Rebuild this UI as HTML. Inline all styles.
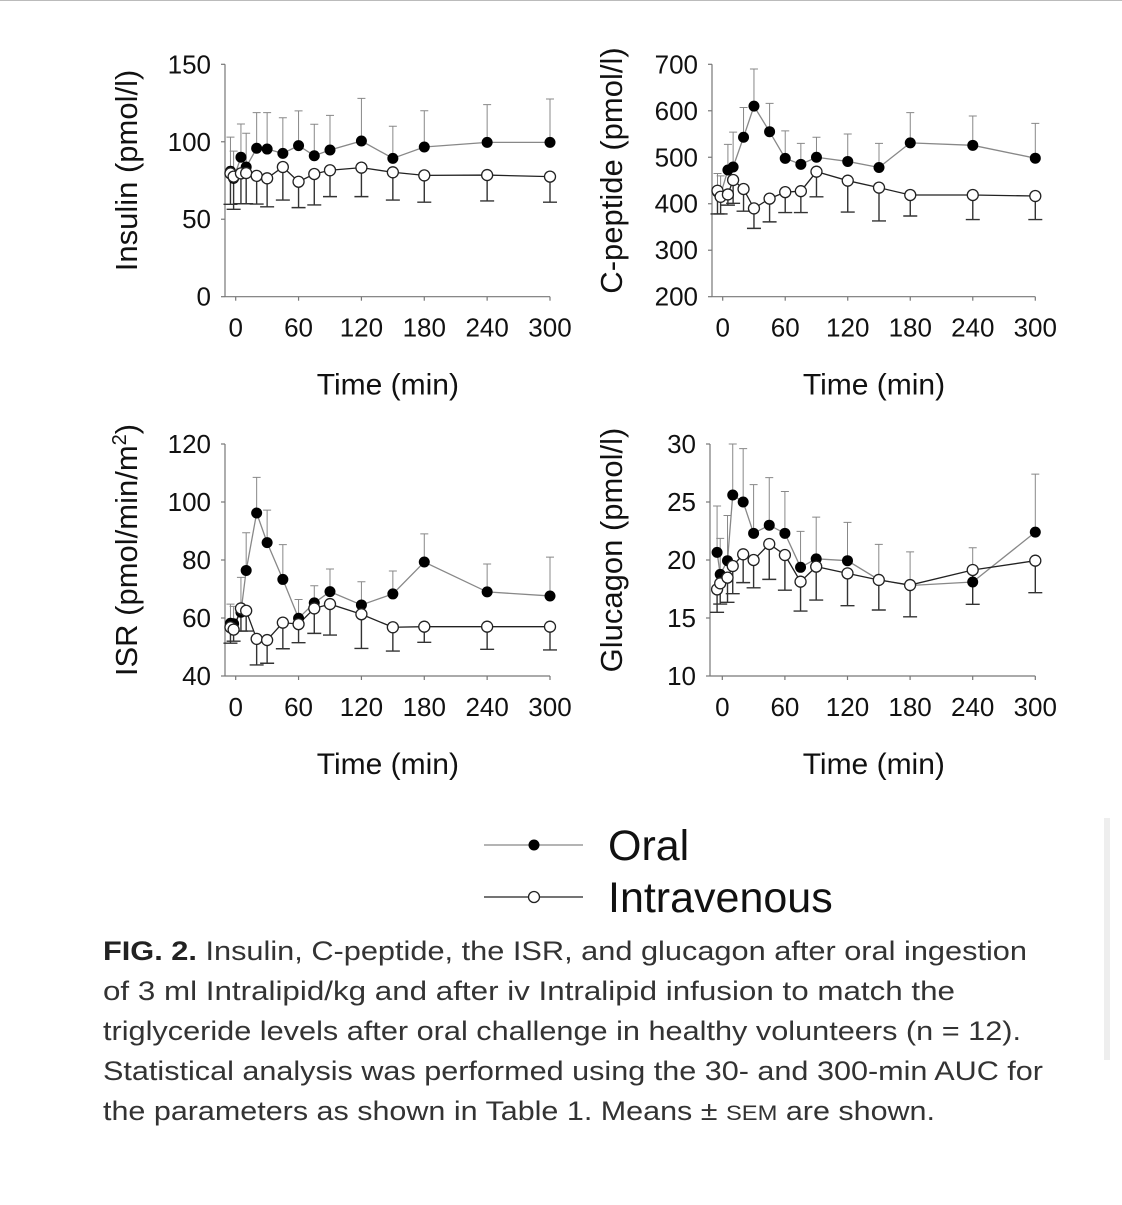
<!DOCTYPE html>
<html><head><meta charset="utf-8"><style>
html,body{margin:0;padding:0;background:#fff;}
body{width:1122px;height:1200px;overflow:hidden;position:relative;font-family:"Liberation Sans",sans-serif;}
</style></head><body>
<svg id="fig" width="1122" height="1200" viewBox="0 0 1122 1200" xmlns="http://www.w3.org/2000/svg" font-family="Liberation Sans, sans-serif">
<line x1="0" y1="0.5" x2="1122" y2="0.5" stroke="#bbb" stroke-width="1"/>
<rect x="1104" y="818" width="6" height="242" fill="#eee"/>
<g>
<g>
<line x1="484" y1="845" x2="583" y2="845" stroke="#888" stroke-width="1.3"/>
<circle cx="534" cy="845" r="5.5" fill="#000"/>
<text x="608" y="860" font-size="43" fill="#111">Oral</text></g>
<g>
<line x1="484" y1="897" x2="583" y2="897" stroke="#222" stroke-width="1.3"/>
<circle cx="534" cy="897" r="5.5" fill="#fff" stroke="#222" stroke-width="1.3"/>
<text x="608" y="912" font-size="43" fill="#111">Intravenous</text></g>
</g>
<g font-size="27" fill="#333">
<text x="103" y="960" textLength="924" lengthAdjust="spacingAndGlyphs"><tspan font-weight="bold" fill="#222">FIG. 2.</tspan>  Insulin, C-peptide, the ISR, and glucagon after oral ingestion</text>
<text x="103" y="1000" textLength="852" lengthAdjust="spacingAndGlyphs">of 3 ml Intralipid/kg and after iv Intralipid infusion to match the</text>
<text x="103" y="1040" textLength="918" lengthAdjust="spacingAndGlyphs">triglyceride levels after oral challenge in healthy volunteers (n = 12).</text>
<text x="103" y="1080" textLength="940" lengthAdjust="spacingAndGlyphs">Statistical analysis was performed using the 30- and 300-min AUC for</text>
<text x="103" y="1120" textLength="832" lengthAdjust="spacingAndGlyphs">the parameters as shown in Table 1. Means ± <tspan font-size="21">SEM</tspan> are shown.</text>
</g>
</svg>
<script>
const times = [-5,-2,5,10,20,30,45,60,75,90,120,150,180,240,300];
const xTicks = [0,60,120,180,240,300];
// Insulin
const insOral = [81,76.4,90,83.7,95.8,95.3,92.5,97.5,91,94.7,100.5,89.3,96.6,99.6,99.6];
const insOralSem = [22,17.6,21.5,21.8,23,23.5,23,22.4,20.3,22.3,27.5,20.7,23.4,24.4,28];
const insIv = [79.6,77.5,79.6,79.8,78,76.4,83.7,74.2,79.2,81.6,83.3,80.3,78.3,78.5,77.5];
const insIvSem = [20,21.1,19.6,19.8,18.2,18.4,21.3,16.7,20,17,18.7,17.9,17.3,16.7,16.5];
const insTicks = [0,50,100,150];
// C-peptide
const cpOral = [425,420,472.6,479,543,610,555,497.7,484.8,500,491,478,531,525.7,498];
const cpOralSem = [40,40,55,75,64,80,61,59,45,43,59,52,65,63,75];
const cpIv = [428,415,420,451,431.7,390,411,425,427,469,449.6,434.6,418.8,418.8,416.6];
const cpIvSem = [50,37,23,50,47.7,43,50,44,46,54,67.6,71.6,45.2,52.8,50.6];
const cpTicks = [200,300,400,500,600,700];
// ISR
const isrOral = [58.2,58,62,76.4,96.2,86,73.3,59.9,65.2,69.1,64.5,68.3,79.3,69,67.6];
const isrOralSem = [6.6,6,12,13,12.3,11.2,12,6.5,5.9,7.8,8,7.9,9.7,9.6,13.4];
const isrIv = [56.8,56,63.3,62.5,52.8,52.4,58.4,57.9,63.3,64.8,61.3,56.8,57,57,57];
const isrIvSem = [5.5,4,7.8,7,9,8,9,6.4,8.6,10.7,11.8,8.2,5.4,7.8,8];
const isrTicks = [40,60,80,100,120];
// Glucagon
const glOral = [20.66,18.76,19.94,25.6,25.0,22.3,23.0,22.3,19.37,20.1,19.94,18.3,17.8,18.1,22.4];
const glOralSem = [4,3.1,3.9,4.4,4.6,4.2,4.1,3.6,3.1,3.6,3.3,3.05,2.9,2.96,5];
const glIv = [17.47,17.99,18.48,19.48,20.49,20.0,21.38,20.43,18.13,19.43,18.85,18.28,17.84,19.14,19.94];
const glIvSem = [1.98,1.79,2.13,2.38,2.44,2.4,3.05,3.03,2.53,2.88,2.79,2.59,2.74,2.96,2.76];
const glTicks = [10,15,20,25,30];

const NS='http://www.w3.org/2000/svg';
const svg=document.getElementById('fig');
function mk(tag,attrs,parent){const e=document.createElementNS(NS,tag);for(const k in attrs)e.setAttribute(k,attrs[k]);parent.appendChild(e);return e;}

function panel(cfg){
  const g=mk('g',{},svg);
  
  
  const xs=v=>cfg.x0+(v)*(cfg.x300-cfg.x0)/300;
  const ys=v=>cfg.yBot+(v-cfg.yMin)*(cfg.yTop-cfg.yBot)/(cfg.yMax-cfg.yMin);
  const ax='#777';
  const yAxis=mk('line',{x1:cfg.axX,y1:cfg.yTop,x2:cfg.axX,y2:cfg.yBot,stroke:ax,'stroke-width':1.2},g);
  
  
  const xAxis=mk('line',{x1:cfg.axX,y1:cfg.yBot,x2:cfg.x300,y2:cfg.yBot,stroke:ax,'stroke-width':1.2},g);
  
  
  cfg.yTicks.forEach(t=>{
    const y=ys(t);
    mk('line',{x1:cfg.axX-4,y1:y,x2:cfg.axX,y2:y,stroke:ax,'stroke-width':1.2},g);
    const tx=mk('text',{x:cfg.axX-14,y:y+9,'font-size':26,'text-anchor':'end',fill:'#111'},g);
    tx.textContent=t;
    
    
  });
  xTicks.forEach(t=>{
    const x=xs(t);
    mk('line',{x1:x,y1:cfg.yBot,x2:x,y2:cfg.yBot+4,stroke:ax,'stroke-width':1.2},g);
    const tx=mk('text',{x:x,y:cfg.yBot+40,'font-size':26,'text-anchor':'middle',fill:'#111'},g);
    tx.textContent=t;
    
    
  });
  const xt=mk('text',{x:(cfg.x0+cfg.x300)/2-5,y:cfg.yBot+98,'font-size':30,'text-anchor':'middle',fill:'#111'},g);
  xt.textContent='Time (min)';
  
  
  const yt=mk('text',{x:0,y:0,'font-size':31,'text-anchor':'middle',fill:'#111',transform:`translate(${cfg.labX},${(cfg.yTop+cfg.yBot)/2-10}) rotate(-90)`},g);
  yt.innerHTML=cfg.label;
  
  
  times.forEach((t,i)=>{
    const x=xs(t);
    const ey=ys(cfg.oral[i]+cfg.oralSem[i]);
    const e1=mk('path',{d:`M${x},${ys(cfg.oral[i])}V${ey}M${x-4},${ey}H${x+4}`,stroke:'#888','stroke-width':1,fill:'none'},g);
    
    
    const by=ys(cfg.iv[i]-cfg.ivSem[i]);
    const e2=mk('path',{d:`M${x},${ys(cfg.iv[i])}V${by}M${x-7},${by}H${x+7}`,stroke:'#333','stroke-width':1.4,fill:'none'},g);
    
    
  });
  const lo=mk('polyline',{points:times.map((t,i)=>xs(t)+','+ys(cfg.oral[i])).join(' '),stroke:'#888','stroke-width':1.3,fill:'none'},g);
  
  
  const li=mk('polyline',{points:times.map((t,i)=>xs(t)+','+ys(cfg.iv[i])).join(' '),stroke:'#222','stroke-width':1.3,fill:'none'},g);
  
  
  times.forEach((t,i)=>{
    const c=mk('circle',{cx:xs(t),cy:ys(cfg.oral[i]),r:5.5,fill:'#000'},g);
    
    
  });
  times.forEach((t,i)=>{
    const c=mk('circle',{cx:xs(t),cy:ys(cfg.iv[i]),r:5.5,fill:'#fff',stroke:'#222','stroke-width':1.3},g);
    
    
  });
}
panel({name:'insulin-panel',x0:235.7,x300:550,axX:225,yTop:64.3,yBot:296.7,yMin:0,yMax:150,yTicks:insTicks,labX:137,label:'Insulin (pmol/l)',oral:insOral,oralSem:insOralSem,iv:insIv,ivSem:insIvSem});
panel({name:'c-peptide-panel',x0:722.7,x300:1035.3,axX:712,yTop:64.3,yBot:296.7,yMin:200,yMax:700,yTicks:cpTicks,labX:622,label:'C-peptide (pmol/l)',oral:cpOral,oralSem:cpOralSem,iv:cpIv,ivSem:cpIvSem});
panel({name:'isr-panel',x0:235.7,x300:550,axX:225,yTop:444,yBot:676,yMin:40,yMax:120,yTicks:isrTicks,labX:137,label:'ISR (pmol/min/m<tspan dy="-11" font-size="20">2</tspan><tspan dy="11">)</tspan>',oral:isrOral,oralSem:isrOralSem,iv:isrIv,ivSem:isrIvSem});
panel({name:'glucagon-panel',x0:722.3,x300:1035.3,axX:710,yTop:444,yBot:676,yMin:10,yMax:30,yTicks:glTicks,labX:622,label:'Glucagon (pmol/l)',oral:glOral,oralSem:glOralSem,iv:glIv,ivSem:glIvSem});
</script>
</body></html>
